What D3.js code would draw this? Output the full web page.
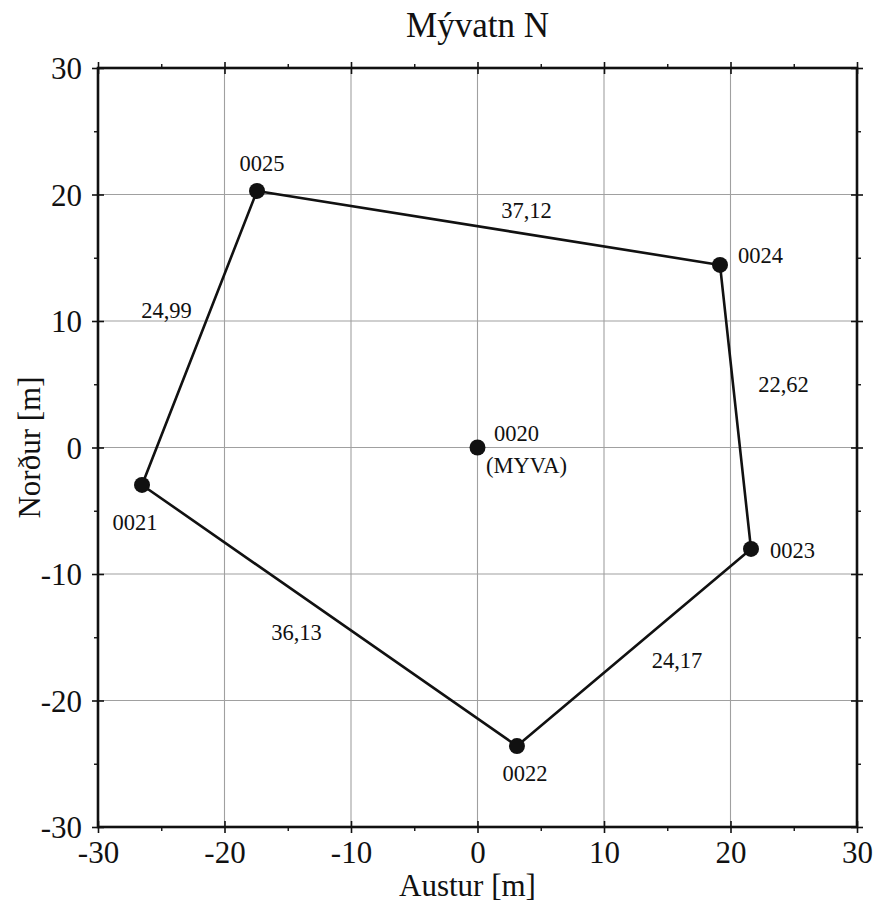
<!DOCTYPE html>
<html>
<head>
<meta charset="utf-8">
<script src="https://cdn.jsdelivr.net/npm/d3@7"></script>
<style>
  html, body { margin: 0; padding: 0; background: #fff; }
  svg { display: block; }
  svg text { font-family: "Liberation Serif", "Times New Roman", serif !important; fill: #111; }
</style>
</head>
<body>
<div id="chart"></div>
<script>
// ---- data ----
const pointIds   = ["0020", "0021", "0022", "0023", "0024", "0025"];
const pointEast  = [0.0, -26.52, 3.12, 21.62, 19.17, -17.43];
const pointNorth = [0.0, -2.96, -23.60, -8.02, 14.43, 20.28];
const polygonOrder = ["0025", "0024", "0023", "0022", "0021", "0025"];
const edgeLengths  = ["37,12", "22,62", "24,17", "36,13", "24,99"];
const centerSubLabel = "(MYVA)";
const majorTicks = [-30, -20, -10, 0, 10, 20, 30];
const minorTicks = [-25, -15, -5, 5, 15, 25];
const titleText = "Mývatn N";
const xTitle = "Austur [m]";
const yTitle = "Norður [m]";

(function () {
// ---- layout ----
const W = 875, H = 904;
const SERIF = "'Liberation Serif', 'Times New Roman', serif";
const LBL = 22.5;
const margin = { left: 98, top: 68, right: 875 - 857, bottom: 904 - 827 };
const x = d3.scaleLinear().domain([-30, 30]).range([margin.left, W - margin.right]);
const y = d3.scaleLinear().domain([-30, 30]).range([H - margin.bottom, margin.top]);

const svg = d3.select("#chart").append("svg").attr("width", W).attr("height", H)
  .attr("font-family", SERIF);

// grid
const grid = svg.append("g");
grid.selectAll("line.gx").data(majorTicks.slice(1, -1)).join("line")
  .attr("class", "gx")
  .attr("x1", d => x(d)).attr("x2", d => x(d))
  .attr("y1", y(-30)).attr("y2", y(30))
  .attr("stroke", "#a0a0a0").attr("stroke-width", 1.1);
grid.selectAll("line.gy").data(majorTicks.slice(1, -1)).join("line")
  .attr("class", "gy")
  .attr("y1", d => y(d)).attr("y2", d => y(d))
  .attr("x1", x(-30)).attr("x2", x(30))
  .attr("stroke", "#a0a0a0").attr("stroke-width", 1.1);

// axes (ticks crossing frame)
function styleAxis(g) {
  g.attr("font-family", SERIF).attr("font-size", 31);
  g.select(".domain").remove();
  g.selectAll(".tick line").attr("stroke", "#111").attr("stroke-width", 1.6);
  g.selectAll(".tick text").attr("fill", "#111");
}
const fmt = d => String(d);

const axB = svg.append("g").attr("transform", `translate(0,${y(-30)})`)
  .call(d3.axisBottom(x).tickValues(majorTicks).tickFormat(fmt).tickSizeInner(6).tickSizeOuter(0).tickPadding(8));
axB.call(styleAxis);
axB.selectAll(".tick line").attr("y1", -6);

const axL = svg.append("g").attr("transform", `translate(${x(-30)},0)`)
  .call(d3.axisLeft(y).tickValues(majorTicks).tickFormat(fmt).tickSizeInner(6).tickSizeOuter(0).tickPadding(10));
axL.call(styleAxis);
axL.selectAll(".tick line").attr("x1", 6).attr("x2", -6);
axL.selectAll(".tick text").attr("dy", "0.34em");

const axT = svg.append("g").attr("transform", `translate(0,${y(30)})`)
  .call(d3.axisTop(x).tickValues(majorTicks).tickFormat("").tickSizeInner(6).tickSizeOuter(0));
axT.call(styleAxis);
axT.selectAll(".tick line").attr("y1", 6);

const axR = svg.append("g").attr("transform", `translate(${x(30)},0)`)
  .call(d3.axisRight(y).tickValues(majorTicks).tickFormat("").tickSizeInner(6).tickSizeOuter(0));
axR.call(styleAxis);
axR.selectAll(".tick line").attr("x1", -6);

// minor ticks outside
const minorStyle = g => { g.select(".domain").remove(); g.selectAll(".tick line").attr("stroke", "#111").attr("stroke-width", 1.4); };
svg.append("g").attr("transform", `translate(0,${y(-30)})`)
  .call(d3.axisBottom(x).tickValues(minorTicks).tickFormat("").tickSize(4)).call(minorStyle);
svg.append("g").attr("transform", `translate(0,${y(30)})`)
  .call(d3.axisTop(x).tickValues(minorTicks).tickFormat("").tickSize(4)).call(minorStyle);
svg.append("g").attr("transform", `translate(${x(-30)},0)`)
  .call(d3.axisLeft(y).tickValues(minorTicks).tickFormat("").tickSize(4)).call(minorStyle);
svg.append("g").attr("transform", `translate(${x(30)},0)`)
  .call(d3.axisRight(y).tickValues(minorTicks).tickFormat("").tickSize(4)).call(minorStyle);

// frame
svg.append("rect")
  .attr("x", x(-30)).attr("y", y(30))
  .attr("width", x(30) - x(-30)).attr("height", y(-30) - y(30))
  .attr("fill", "none").attr("stroke", "#111").attr("stroke-width", 2.6);

// polygon
const pts = pointIds.map((id, i) => ({ id, e: pointEast[i], n: pointNorth[i] }));
const byId = Object.fromEntries(pts.map(p => [p.id, p]));
const poly = polygonOrder.map(id => byId[id]);
svg.append("path")
  .datum(poly)
  .attr("d", d3.line().x(d => x(d.e)).y(d => y(d.n)))
  .attr("fill", "none").attr("stroke", "#111").attr("stroke-width", 2.6)
  .attr("stroke-linejoin", "round");

// points
svg.append("g").selectAll("circle").data(pts).join("circle")
  .attr("cx", d => x(d.e)).attr("cy", d => y(d.n)).attr("r", 8)
  .attr("fill", "#111");

// point labels (pixel offsets from point, text anchor)
const labelOffsets = {
  "0020": [39, -14, "middle"],
  "0021": [-7, 37, "middle"],
  "0022": [8, 27, "middle"],
  "0023": [19, 1, "start"],
  "0024": [18, -10, "start"],
  "0025": [5, -28, "middle"]
};
svg.append("g").selectAll("text").data(pts).join("text")
  .attr("x", d => x(d.e) + labelOffsets[d.id][0])
  .attr("y", d => y(d.n) + labelOffsets[d.id][1])
  .attr("dy", "0.35em")
  .attr("text-anchor", d => labelOffsets[d.id][2])
  .attr("font-size", LBL)
  .text(d => d.id);
svg.append("text")
  .attr("x", x(byId["0020"].e) + 49).attr("y", y(byId["0020"].n) + 18)
  .attr("dy", "0.35em").attr("text-anchor", "middle")
  .attr("font-size", LBL).text(centerSubLabel);

// edge labels (offset from segment midpoint)
const edgeOffsets = [[38, -18], [48, -23], [43, 13], [-33, 17], [-33, -28]];
const edges = edgeLengths.map((t, i) => ({ a: poly[i], b: poly[i + 1], t, off: edgeOffsets[i] }));
svg.append("g").selectAll("text").data(edges).join("text")
  .attr("x", d => (x(d.a.e) + x(d.b.e)) / 2 + d.off[0])
  .attr("y", d => (y(d.a.n) + y(d.b.n)) / 2 + d.off[1])
  .attr("dy", "0.35em").attr("text-anchor", "middle")
  .attr("font-size", LBL)
  .text(d => d.t);

// titles
svg.append("text").attr("x", (x(-30) + x(30)) / 2).attr("y", 37)
  .attr("text-anchor", "middle").attr("font-size", 35).text(titleText);
svg.append("text").attr("x", (x(-30) + x(30)) / 2 - 10).attr("y", 896)
  .attr("text-anchor", "middle").attr("font-size", 31).text(xTitle);
svg.append("text")
  .attr("transform", `translate(40,${(y(-30) + y(30)) / 2}) rotate(-90)`)
  .attr("text-anchor", "middle").attr("font-size", 31).text(yTitle);
})();
</script>
</body>
</html>
